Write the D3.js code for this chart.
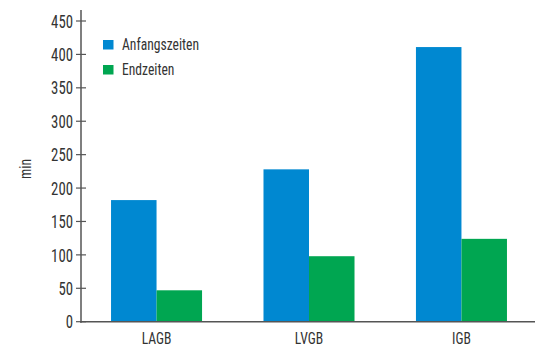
<!DOCTYPE html>
<html>
<head>
<meta charset="utf-8">
<script src="https://cdn.jsdelivr.net/npm/d3@7/dist/d3.min.js"></script>
<style>
  html, body { margin: 0; padding: 0; background: #fff; }
  svg { display: block; }
  text { font-family: "Liberation Sans Narrow", "Roboto Condensed", "DejaVu Sans Condensed", sans-serif; fill: #333; }
</style>
</head>
<body>
<svg id="chart" width="535" height="349"></svg>
<script>
// Categories and series (minutes)
const categories = ["LAGB", "LVGB", "IGB"];
const seriesNames = ["Anfangszeiten", "Endzeiten"];
const anfangszeiten = [182, 228, 411];
const endzeiten = [47, 98, 124];
const yTicks = [0, 50, 100, 150, 200, 250, 300, 350, 400, 450];

const colors = ["#0088d1", "#00a651"];
const series = [anfangszeiten, endzeiten];

const svg = d3.select("#chart");
const axisX = 81, baseY = 321.7, topY = 21;

const y = d3.scaleLinear().domain([0, 450]).range([baseY, topY]);
const x0 = d3.scaleBand().domain(categories).range([81, 537])
  .paddingInner(0.403).paddingOuter(0.197);
const x1 = d3.scaleBand().domain(seriesNames).range([0, x0.bandwidth()]);

// Condensed look: draw text horizontally squeezed
const squeeze = 0.8;

// Bars
const groups = svg.append("g").selectAll("g")
  .data(categories).join("g")
  .attr("transform", d => `translate(${x0(d)},0)`);
groups.selectAll("rect")
  .data((c, i) => seriesNames.map((s, k) => ({ s, v: series[k][i], k })))
  .join("rect")
  .attr("x", d => x1(d.s))
  .attr("width", x1.bandwidth())
  .attr("y", d => y(d.v))
  .attr("height", d => baseY - y(d.v))
  .attr("fill", d => colors[d.k]);

// Y axis: line, crossing ticks, labels
const axisColor = "#555";
svg.append("line").attr("x1", axisX).attr("x2", axisX).attr("y1", 10).attr("y2", baseY + 1)
  .attr("stroke", axisColor).attr("stroke-width", 1.5);
svg.append("line").attr("x1", 80).attr("x2", 535).attr("y1", baseY).attr("y2", baseY)
  .attr("stroke", axisColor).attr("stroke-width", 1.5);
const yt = svg.append("g").selectAll("g").data(yTicks).join("g")
  .attr("transform", d => `translate(0,${y(d)})`);
yt.append("line").attr("x1", 76).attr("x2", 86).attr("stroke", axisColor).attr("stroke-width", 1.2);
yt.append("text")
  .attr("transform", `translate(73,0) scale(${squeeze},1)`)
  .attr("dy", "0.36em").attr("text-anchor", "end")
  .attr("font-size", 18.5).text(d => d);

// Category labels
svg.append("g").selectAll("text").data(categories).join("text")
  .attr("transform", d => `translate(${x0(d) + x0.bandwidth() / 2},344) scale(0.8,1)`)
  .attr("text-anchor", "middle")
  .attr("font-size", 17)
  .text(d => d);

// Y axis title
svg.append("text").attr("transform", "translate(31,169) rotate(-90) scale(0.85,1)")
  .attr("text-anchor", "middle").attr("font-size", 16).text("min");

// Legend
const legend = svg.append("g").selectAll("g").data(seriesNames).join("g")
  .attr("transform", (d, i) => `translate(103,${40 + i * 25})`);
legend.append("rect").attr("width", 10.5).attr("height", 9.5).attr("fill", (d, i) => colors[i]);
legend.append("text")
  .attr("transform", `translate(19,9.5) scale(0.8,1)`)
  .attr("font-size", 17).text(d => d);
</script>
</body>
</html>
